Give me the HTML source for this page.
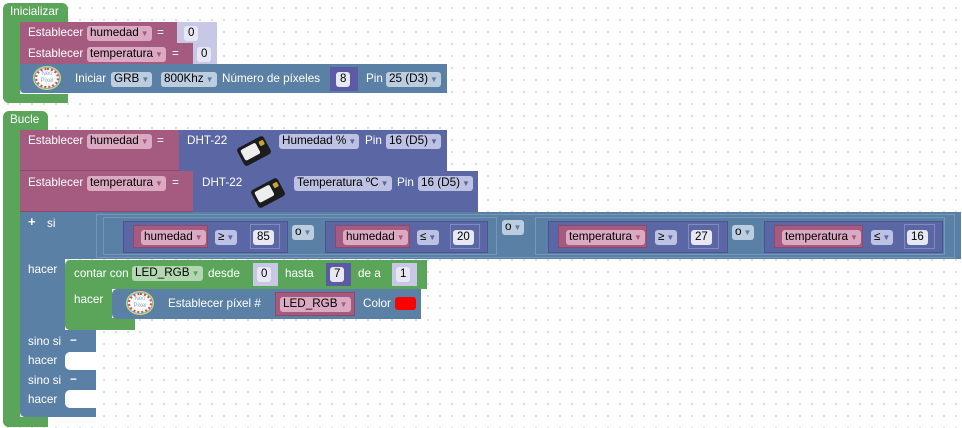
<!DOCTYPE html>
<html><head><meta charset="utf-8"><style>
*{box-sizing:border-box;margin:0;padding:0}
body{width:962px;height:428px;overflow:hidden;position:relative;font-family:"Liberation Sans",sans-serif;font-size:11.7px;color:#fff;
background-color:#fff;background-image:radial-gradient(circle,#dcdcdc 1px,transparent 1.3px);background-size:12px 12px;background-position:2px 2px}
.b{position:absolute}
.g{background:#5ba55b}
.p{background:#a55b80;border-bottom:1px solid #8a4a6a}
.bl{background:#5b80a5}
.d{background:#5b67a5}
.n{background:#c8c8e6}
.dp{background:#5b5ba5}
.t{position:absolute;white-space:nowrap;line-height:14px}
.f{position:absolute;white-space:nowrap;line-height:14px;height:15px;padding:0 3px;border-radius:3px;color:#000;font-size:11.7px}
.fp{background:#dba9c1}
.fb{background:#bdcde0}
.fd{background:#bdc2e3}
.fg{background:#b2d8b2}
.fn{background:#e8e8f4;font-size:11.5px;padding:0 4px}
.ar{font-size:8px;margin-left:2px}
.arp{color:#a55b80}.arb{color:#5b80a5}.ard{color:#5b67a5}.arg{color:#5ba55b}
.box{position:absolute;border:1px solid #7496b8}
.cmp{position:absolute;background:#5b67a5;border:1px solid #4a5590}
.var{position:absolute;background:#a55b80;border:1px solid #8a4a6a}
.neo{position:absolute;width:24px;height:20px;border-radius:50%;border:2px dotted #e44;background:#fff;box-shadow:0 0 0 1px #6bd,0 0 0 2px #dd5;}
.neo span{display:block;color:#8ab;font-size:6px;line-height:7px;text-align:center;margin-top:1px}
.dht{position:absolute;width:30px;height:20px;background:#1c1c1c;border-radius:3px;transform:rotate(-28deg)}
.dht i{position:absolute;left:3px;top:3px;width:17px;height:12px;background:#eee;border-radius:2px}
.dht b{position:absolute;right:2px;top:4px;width:5px;height:5px;background:#c9a23a;border-radius:1px}
</style></head><body>

<!-- Inicializar -->
<div class="b g" style="left:3px;top:3px;width:65px;height:19px;border-radius:6px 6px 0 0"></div>
<div class="t" style="left:10px;top:5px">Inicializar</div>
<div class="b g" style="left:3px;top:20px;width:17px;height:83px;border-radius:0 0 0 6px"></div>
<div class="b g" style="left:3px;top:94px;width:65px;height:9px;border-radius:0 0 0 6px"></div>

<div class="b p" style="left:20px;top:22px;width:160px;height:22px"></div>
<div class="t" style="left:28px;top:26px">Establecer</div>
<div class="f fp" style="left:87px;top:26px">humedad<span class="ar arp">▼</span></div>
<div class="t" style="left:157px;top:26px">=</div>
<div class="b n" style="left:177px;top:22px;width:40px;height:22px"></div>
<div class="f fn" style="left:184px;top:26px">0</div>

<div class="b p" style="left:20px;top:43px;width:175px;height:22px"></div>
<div class="t" style="left:28px;top:47px">Establecer</div>
<div class="f fp" style="left:87px;top:47px">temperatura<span class="ar arp">▼</span></div>
<div class="t" style="left:172px;top:47px">=</div>
<div class="b n" style="left:193px;top:43px;width:24px;height:22px"></div>
<div class="f fn" style="left:197px;top:47px">0</div>

<div class="b bl" style="left:20px;top:64px;width:427px;height:29px;border-radius:0 0 0 4px"></div>
<div class="neo" style="left:35px;top:68px"><span>Neo<br>Pixel</span></div>
<div class="t" style="left:75px;top:72px">Iniciar</div>
<div class="f fb" style="left:111px;top:72px">GRB<span class="ar arb">▼</span></div>
<div class="f fb" style="left:161px;top:72px">800Khz<span class="ar arb">▼</span></div>
<div class="t" style="left:222px;top:72px">Número de píxeles</div>
<div class="b dp" style="left:330px;top:67px;width:28px;height:24px"></div>
<div class="f fn" style="left:336px;top:72px">8</div>
<div class="t" style="left:366px;top:72px">Pin</div>
<div class="f fb" style="left:386px;top:72px">25 (D3)<span class="ar arb">▼</span></div>

<!-- Bucle -->
<div class="b g" style="left:3px;top:111px;width:45px;height:20px;border-radius:6px 6px 0 0"></div>
<div class="t" style="left:10px;top:113px">Bucle</div>
<div class="b g" style="left:3px;top:128px;width:17px;height:299px;border-radius:0 0 0 6px"></div>
<div class="b g" style="left:3px;top:417px;width:45px;height:10px;border-radius:0 0 0 6px"></div>

<div class="b p" style="left:20px;top:130px;width:162px;height:41px"></div>
<div class="t" style="left:28px;top:134px">Establecer</div>
<div class="f fp" style="left:87px;top:134px">humedad<span class="ar arp">▼</span></div>
<div class="t" style="left:157px;top:134px">=</div>
<div class="b d" style="left:179px;top:130px;width:268px;height:41px"></div>
<div class="t" style="left:187px;top:134px">DHT-22</div>
<div class="dht" style="left:239px;top:141px"><i></i><b></b></div>
<div class="f fd" style="left:279px;top:134px">Humedad %<span class="ar ard">▼</span></div>
<div class="t" style="left:365px;top:134px">Pin</div>
<div class="f fd" style="left:386px;top:134px">16 (D5)<span class="ar ard">▼</span></div>

<div class="b p" style="left:20px;top:171px;width:176px;height:41px"></div>
<div class="t" style="left:28px;top:176px">Establecer</div>
<div class="f fp" style="left:87px;top:176px">temperatura<span class="ar arp">▼</span></div>
<div class="t" style="left:172px;top:176px">=</div>
<div class="b d" style="left:193px;top:171px;width:285px;height:41px"></div>
<div class="t" style="left:202px;top:176px">DHT-22</div>
<div class="dht" style="left:253px;top:183px"><i></i><b></b></div>
<div class="f fd" style="left:294px;top:176px">Temperatura ºC<span class="ar ard">▼</span></div>
<div class="t" style="left:397px;top:176px">Pin</div>
<div class="f fd" style="left:418px;top:176px">16 (D5)<span class="ar ard">▼</span></div>

<!-- si block -->
<div class="b bl" style="left:20px;top:212px;width:941px;height:47px"></div>
<div class="b bl" style="left:20px;top:258px;width:45px;height:159px;border-radius:0 0 0 5px"></div>
<div class="b bl" style="left:20px;top:330px;width:76px;height:87px;border-radius:0 0 0 5px"></div>
<div class="b" style="left:65px;top:352px;width:31px;height:18px;background:#fff;border-radius:5px 0 0 5px"></div>
<div class="b" style="left:65px;top:390px;width:31px;height:18px;background:#fff;border-radius:5px 0 0 5px"></div>
<div class="t" style="left:28px;top:215px;font-weight:bold;font-size:13px">+</div>
<div class="t" style="left:47px;top:217px">si</div>
<div class="t" style="left:28px;top:263px">hacer</div>
<div class="t" style="left:28px;top:335px">sino si</div>
<div class="t" style="left:70px;top:334px;font-weight:bold">−</div>
<div class="t" style="left:28px;top:354px">hacer</div>
<div class="t" style="left:28px;top:374px">sino si</div>
<div class="t" style="left:70px;top:373px;font-weight:bold">−</div>
<div class="t" style="left:28px;top:393px">hacer</div>

<!-- conditions -->
<div class="box" style="left:96px;top:214px;width:859px;height:44px"></div>
<div class="box" style="left:103px;top:217px;width:394px;height:38px"></div>
<div class="cmp" style="left:123px;top:221px;width:165px;height:32px"></div>
<div class="var" style="left:133px;top:225px;width:75px;height:23px"></div>
<div class="f fp" style="left:141px;top:230px">humedad<span class="ar arp">▼</span></div>
<div class="f fd" style="left:215px;top:230px">≥<span class="ar ard">▼</span></div>
<div class="b n" style="left:250px;top:224px;width:30px;height:25px;background:#5b67a5;border:1px solid #8089c0"></div>
<div class="f fn" style="left:253px;top:230px">85</div>
<div class="f fb" style="left:292px;top:225px">o<span class="ar arb">▼</span></div>
<div class="cmp" style="left:325px;top:221px;width:163px;height:32px"></div>
<div class="var" style="left:335px;top:225px;width:75px;height:23px"></div>
<div class="f fp" style="left:343px;top:230px">humedad<span class="ar arp">▼</span></div>
<div class="f fd" style="left:417px;top:230px">≤<span class="ar ard">▼</span></div>
<div class="b" style="left:450px;top:224px;width:30px;height:25px;background:#5b67a5;border:1px solid #8089c0"></div>
<div class="f fn" style="left:453px;top:230px">20</div>
<div class="f fb" style="left:502px;top:220px">o<span class="ar arb">▼</span></div>
<div class="box" style="left:535px;top:217px;width:410px;height:38px"></div>
<div class="cmp" style="left:548px;top:221px;width:180px;height:32px"></div>
<div class="var" style="left:558px;top:225px;width:89px;height:23px"></div>
<div class="f fp" style="left:566px;top:230px">temperatura<span class="ar arp">▼</span></div>
<div class="f fd" style="left:655px;top:230px">≥<span class="ar ard">▼</span></div>
<div class="b" style="left:688px;top:224px;width:31px;height:25px;background:#5b67a5;border:1px solid #8089c0"></div>
<div class="f fn" style="left:691px;top:230px">27</div>
<div class="f fb" style="left:732px;top:225px">o<span class="ar arb">▼</span></div>
<div class="cmp" style="left:764px;top:221px;width:179px;height:32px"></div>
<div class="var" style="left:774px;top:225px;width:89px;height:23px"></div>
<div class="f fp" style="left:782px;top:230px">temperatura<span class="ar arp">▼</span></div>
<div class="f fd" style="left:871px;top:230px">≤<span class="ar ard">▼</span></div>
<div class="b" style="left:904px;top:224px;width:31px;height:25px;background:#5b67a5;border:1px solid #8089c0"></div>
<div class="f fn" style="left:907px;top:230px">16</div>

<!-- contar -->
<div class="b g" style="left:65px;top:260px;width:362px;height:29px;border-radius:5px 0 0 0"></div>
<div class="b g" style="left:65px;top:287px;width:47px;height:43px;border-radius:0 0 0 5px"></div>
<div class="b g" style="left:65px;top:318px;width:70px;height:12px;border-radius:0 0 0 5px"></div>
<div class="t" style="left:74px;top:267px">contar con</div>
<div class="f fg" style="left:132px;top:266px">LED_RGB<span class="ar arg">▼</span></div>
<div class="t" style="left:208px;top:267px">desde</div>
<div class="b n" style="left:253px;top:263px;width:25px;height:23px"></div>
<div class="f fn" style="left:257px;top:267px">0</div>
<div class="t" style="left:285px;top:267px">hasta</div>
<div class="b dp" style="left:326px;top:263px;width:25px;height:23px"></div>
<div class="f fn" style="left:330px;top:267px">7</div>
<div class="t" style="left:358px;top:267px">de a</div>
<div class="b n" style="left:392px;top:263px;width:25px;height:23px"></div>
<div class="f fn" style="left:396px;top:267px">1</div>
<div class="t" style="left:74px;top:293px">hacer</div>
<div class="b bl" style="left:112px;top:289px;width:309px;height:30px;border-radius:5px 0 0 5px"></div>
<div class="neo" style="left:128px;top:293px"><span>Neo<br>Pixel</span></div>
<div class="t" style="left:168px;top:297px">Establecer píxel #</div>
<div class="var" style="left:275px;top:292px;width:80px;height:24px"></div>
<div class="f fp" style="left:280px;top:297px">LED_RGB<span class="ar arp">▼</span></div>
<div class="t" style="left:363px;top:297px">Color</div>
<div class="b" style="left:395px;top:297px;width:21px;height:13px;background:#f00;border-radius:3px"></div>
</body></html>
